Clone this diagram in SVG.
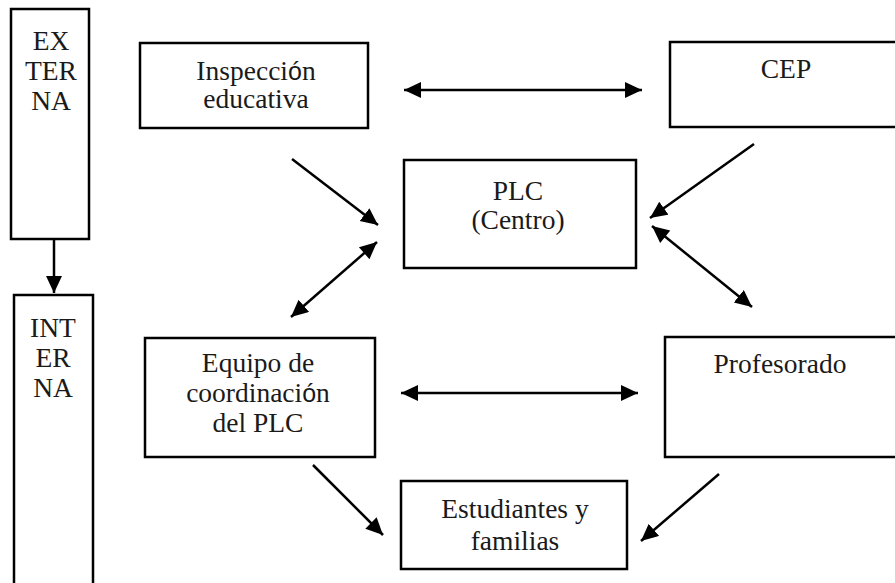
<svg xmlns="http://www.w3.org/2000/svg" width="895" height="583" viewBox="0 0 895 583">
<defs>
<style>
.box{fill:#fff;stroke:#000;stroke-width:2.5}
.t{font-family:'Liberation Serif','DejaVu Serif',serif;font-size:27.5px;fill:#1a1a1a;text-anchor:middle}
.s{font-family:'Liberation Sans','DejaVu Sans',sans-serif;font-size:25px}
.c{stroke:#000;stroke-width:2.5;fill:none;marker-end:url(#ah)}
.d{marker-start:url(#ahs)}
</style>
<marker id="ah" markerUnits="userSpaceOnUse" markerWidth="19" markerHeight="17" refX="17" refY="8" orient="auto">
<path d="M0,0 L17,8 L0,16 z" fill="#000"/>
</marker>
<marker id="ahs" markerUnits="userSpaceOnUse" markerWidth="19" markerHeight="17" refX="1" refY="8" orient="auto">
<path d="M18,0 L1,8 L18,16 z" fill="#000"/>
</marker>
</defs>
<rect width="895" height="583" fill="#fff"/>
<g id="externa">
<rect class="box" x="11" y="9" width="78" height="230"/>
<text class="t" x="51" y="50">EX</text>
<text class="t" x="51" y="80">TER</text>
<text class="t" x="51" y="110">NA</text>
</g>
<g id="interna">
<rect class="box" x="14" y="295" width="79" height="300"/>
<text class="t" x="53" y="337">INT</text>
<text class="t" x="53" y="367">ER</text>
<text class="t" x="53" y="397">NA</text>
</g>
<g id="inspeccion">
<rect class="box" x="140" y="43" width="228" height="85"/>
<text class="t" x="256" y="80">Inspecci<tspan class="s">ó</tspan>n</text>
<text class="t" x="256" y="108">educativa</text>
</g>
<g id="cep">
<rect class="box" x="670" y="42" width="240" height="85"/>
<text class="t" x="786" y="78">CEP</text>
</g>
<g id="plc">
<rect class="box" x="404" y="160" width="232" height="108"/>
<text class="t" x="518" y="200">PLC</text>
<text class="t" x="518" y="229">(Centro)</text>
</g>
<g id="equipo">
<rect class="box" x="145" y="338" width="230" height="119"/>
<text class="t" x="258" y="372">Equipo de</text>
<text class="t" x="258" y="402">coordinaci<tspan class="s">ó</tspan>n</text>
<text class="t" x="258" y="432">del PLC</text>
</g>
<g id="profesorado">
<rect class="box" x="665" y="337" width="245" height="120"/>
<text class="t" x="780" y="373">Profesorado</text>
</g>
<g id="estudiantes">
<rect class="box" x="401" y="481" width="226" height="88"/>
<text class="t" x="515" y="518">Estudiantes y</text>
<text class="t" x="515" y="550">familias</text>
</g>
<g id="connectors">
<line class="c" x1="54" y1="240" x2="54" y2="293"/>
<line class="c d" x1="404" y1="90" x2="642" y2="90"/>
<line class="c d" x1="401" y1="393" x2="638" y2="393"/>
<line class="c" x1="292" y1="159" x2="378" y2="225"/>
<line class="c" x1="754" y1="144" x2="650" y2="218"/>
<line class="c d" x1="377" y1="242" x2="291" y2="317"/>
<line class="c d" x1="652" y1="226" x2="752" y2="307"/>
<line class="c" x1="313" y1="465" x2="383" y2="535"/>
<line class="c" x1="719" y1="474" x2="641" y2="541"/>
</g>
</svg>
